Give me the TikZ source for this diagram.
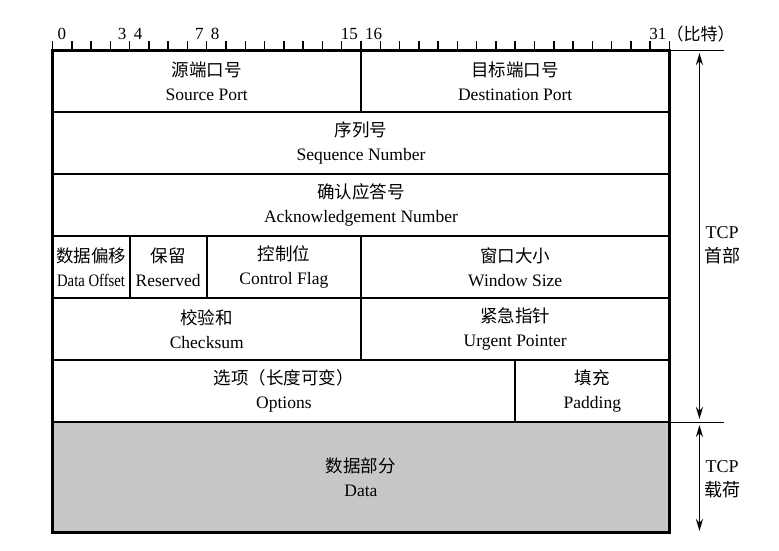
\documentclass[tikz,border=0pt]{standalone}
\usepackage{fontspec}
\setmainfont{Liberation Serif}
\newfontfamily\zhfont{Noto Sans CJK SC}
\usetikzlibrary{positioning,arrows.meta}
\tikzset{
  bits/.style={minimum width=#1*19.28pt}
}
\newcommand{\fieldtext}[2]{{\zhfont #1}\\#2}

\begin{document}
\begin{tikzpicture}[
    x=1pt, y=-1pt,
    field/.style={draw, line width=1.8pt, outer sep=0pt, inner sep=0pt,
        minimum height=62pt, align=center,
        font=\fontsize{17.5}{24}\selectfont},
    bitno/.style={inner sep=0pt, font=\fontsize{17}{17}\selectfont},
    tick/.style={line width=1.5pt},
    span/.style={{Stealth[length=12pt,width=7pt]}-{Stealth[length=12pt,width=7pt]}, line width=1.8pt},
    side/.style={align=center, font=\fontsize{18}{24}\selectfont}
    ]

    \useasboundingbox (0,0) rectangle (779,550);

    % header fields
    \node[field,bits=16,anchor=north west] (srcport) at (52.5,50) {\fieldtext{源端口号}{Source Port}};
    \node[field,bits=16,right=0pt of srcport] (dstport) {\fieldtext{目标端口号}{Destination Port}};
    \node[field,bits=32,below=0pt of srcport.south west,anchor=north west] (seqno) {\fieldtext{序列号}{Sequence Number}};
    \node[field,bits=32,below=0pt of seqno] (ackno) {\fieldtext{确认应答号}{Acknowledgement Number}};
    \node[field,bits=4,below=0pt of ackno.south west,anchor=north west] (offset) {\fieldtext{数据偏移}{\scalebox{0.84}[1]{Data Offset}}};
    \node[field,bits=4,right=0pt of offset] (reserved) {\fieldtext{保留}{Reserved}};
    \node[field,bits=8,right=0pt of reserved] (flags) {\fieldtext{控制位}{Control Flag}};
    \node[field,bits=16,right=0pt of flags] (window) {\fieldtext{窗口大小}{Window Size}};
    \node[field,bits=16,below=0pt of offset.south west,anchor=north west] (checksum) {\fieldtext{校验和}{Checksum}};
    \node[field,bits=16,right=0pt of checksum] (urgent) {\fieldtext{紧急指针}{Urgent Pointer}};
    \node[field,bits=24,below=0pt of checksum.south west,anchor=north west] (options) {\fieldtext{选项（长度可变）}{Options}};
    \node[field,bits=8,right=0pt of options] (padding) {\fieldtext{填充}{Padding}};

    % payload
    \node[field,bits=32,minimum height=110pt,fill=black!22,below=0pt of options.south west,anchor=north west] (data) {\fieldtext{数据部分}{Data}};

    % outer frame
    \draw[line width=3pt] (srcport.north west) rectangle (data.south east);

    % bit ruler
    \foreach \i in {0,...,32}
        \coordinate (t\i) at ([xshift=\i*19.28pt]srcport.north west);
    \foreach \i in {0,...,32}
        \draw[tick] (t\i) -- ++(0,-9);
    \node[bitno,anchor=base west] (lbl0) at ([shift={(5,-11)}]t0) {0};
    \foreach \n/\k in {3/4,7/8,15/16,31/32}
        \node[bitno,anchor=base east] (lbl\n) at ([shift={(-3,-11)}]t\k) {\n};
    \foreach \n in {4,8,16}
        \node[bitno,anchor=base west] (lbl\n) at ([shift={(4,-11)}]t\n) {\n};
    \node[bitno,anchor=base west] (unit) at ([shift={(-3,-10)}]t32) {\zhfont （比特）};

    % header / payload spans
    \coordinate (hdrtop) at ([xshift=30pt]dstport.north east);
    \coordinate (hdrbot) at ([xshift=30pt]padding.south east);
    \coordinate (datbot) at ([xshift=30pt]data.south east);
    \draw[line width=0.9pt] (dstport.north east) -- ([xshift=55pt]dstport.north east);
    \draw[line width=0.9pt] (padding.south east) -- ([xshift=55pt]padding.south east);
    \draw[span,shorten <=3pt,shorten >=3pt] (hdrtop) -- (hdrbot);
    \draw[span,shorten <=3pt,shorten >=1pt] (hdrbot) -- (datbot);
    \node[side] (hdrlabel) at (722,245) {TCP\\{\zhfont 首部}};
    \node[side] (datlabel) at (722,479) {TCP\\{\zhfont 载荷}};

\end{tikzpicture}
\end{document}
